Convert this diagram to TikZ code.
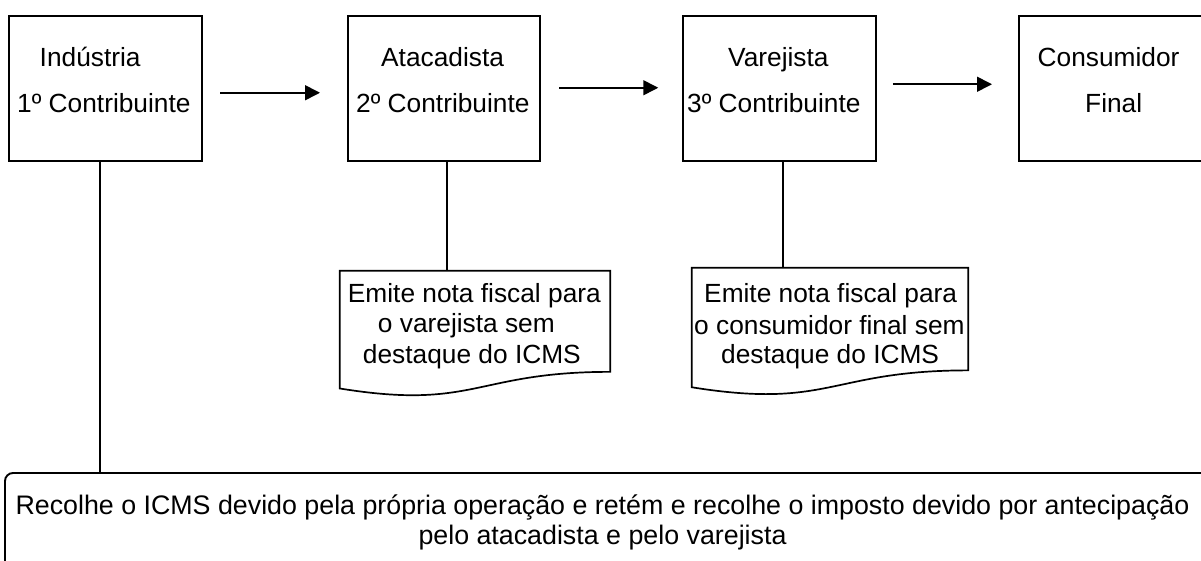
\documentclass[tikz,border=0pt]{standalone}
\usepackage{fontspec}
\setmainfont{Liberation Sans}
\usetikzlibrary{arrows.meta,calc}
\tikzset{
 box/.style={draw, line width=2pt, inner sep=0, minimum width=193pt, minimum height=144.5pt},
 txt/.style={inner sep=0, font=\fontsize{26.3}{30}\selectfont, anchor=base west},
 txte/.style={txt, anchor=base east},
 txtc/.style={txt, anchor=base, font=\fontsize{26.8}{30}\selectfont},
 arr/.style={line width=1.6pt, -{Triangle[length=15pt,width=15pt]}},
 conn/.style={line width=1.6pt},
 docarea/.style={inner sep=0},
 doc/.style={draw, line width=1.7pt},
 botbox/.style={draw, line width=1.9pt, rounded corners=8pt, inner sep=0}
}
\newcommand\mydoc[1]{\draw[doc] (#1.north west) -- (#1.north east) -- ($(#1.north east)!0.802!(#1.south east)$) .. controls ($(#1.north)!0.802!(#1.south)$) and ($(#1.north)!1.108!(#1.south)$) .. ($(#1.north west)!0.934!(#1.south west)$) -- cycle;}
\begin{document}
\begin{tikzpicture}[x=1pt,y=-1pt]
\useasboundingbox (0,0) rectangle (1201,561);
\clip (0,0) rectangle (1201,561);
% main boxes
\node[box] (b1) at (105.5,88.75) {};
\node[box, minimum width=192pt] (b2) at (444,88.75) {};
\node[box] (b3) at (779.75,88.75) {};
\node[box] (b4) at (1115.5,88.75) {};
% box texts
\node[txt] (t1a) at (39.5,66.7) {Indústria};
\node[txt] (t1b) at (17,112.7) {1º Contribuinte};
\node[txt] (t2a) at (381,66.7) {Atacadista};
\node[txt] (t2b) at (356,112.7) {2º Contribuinte};
\node[txt] (t3a) at (728,66.7) {Varejista};
\node[txt] (t3b) at (687,112.7) {3º Contribuinte};
\node[txt] (t4a) at (1037.5,66.7) {Consumidor};
\node[txt] (t4b) at (1085,112.7) {Final};
% arrows
\draw[arr, shorten <=17pt, shorten >=27pt] ($(b1.east)+(0,4)$) -- ($(b2.west)+(0,4)$);
\draw[arr, shorten <=18pt, shorten >=24pt] ($(b2.east)+(0,-1)$) -- ($(b3.west)+(0,-1)$);
\draw[arr, shorten <=15.5pt, shorten >=26pt] ($(b3.east)+(0,-4.5)$) -- ($(b4.west)+(0,-4.5)$);
% document shapes
\node[docarea, minimum width=270pt, minimum height=125.6pt] (d2) at (475,333.8) {};
\node[docarea, minimum width=276pt, minimum height=127.5pt] (d3) at (830,331.75) {};
\mydoc{d2}
\mydoc{d3}
\node[txte] (d2a) at (601,302.7) {Emite nota fiscal para};
\node[txte] (d2b) at (555,332.7) {o varejista sem};
\node[txte] (d2c) at (581,363) {destaque do ICMS};
\node[txt] (d3a) at (704,302.7) {Emite nota fiscal para};
\node[txt] (d3b) at (694,334) {o consumidor final sem};
\node[txt] (d3c) at (721,363.3) {destaque do ICMS};
% bottom box
\node[botbox, minimum width=1220pt, minimum height=140pt] (bot) at (615,543) {};
\node[txtc] (bt1) at (602.5,514) {Recolhe o ICMS devido pela própria operação e retém e recolhe o imposto devido por antecipação};
\node[txtc] (bt2) at (602.5,544) {pelo atacadista e pelo varejista};
% connectors
\coordinate (c1) at ($(b1.south)+(-5.5,0)$);
\coordinate (c2) at ($(b2.south)+(3,0)$);
\coordinate (c3) at ($(b3.south)+(3.25,0)$);
\draw[conn] (c1) -- (c1 |- bot.north);
\draw[conn] (c2) -- (c2 |- d2.north);
\draw[conn] (c3) -- (c3 |- d3.north);
\end{tikzpicture}
\end{document}
